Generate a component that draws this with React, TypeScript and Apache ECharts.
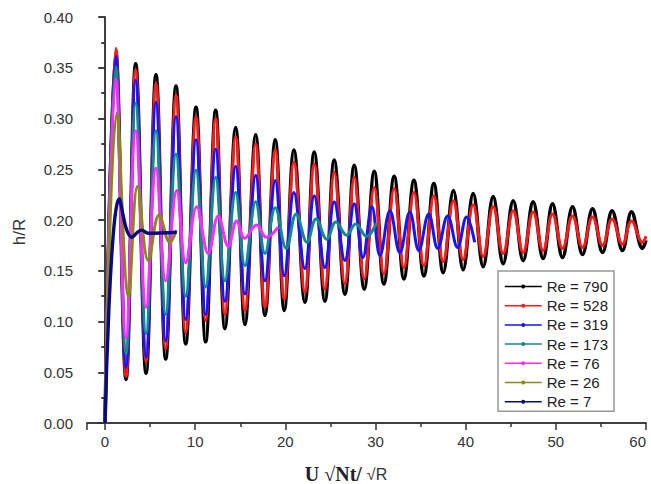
import React, { useEffect, useRef } from "react";
import * as echarts from "echarts";

const seriesNames = ["Re = 790", "Re = 528", "Re = 319", "Re = 173", "Re = 76", "Re = 26", "Re = 7"];
const seriesColors = ["#000000", "#ff1a1a", "#1414ff", "#138a8a", "#ff2bff", "#8a8a14", "#0a0a80"];

// Re = 790 (extrema)
const re790T = [0, 1.19, 2.33, 3.4, 4.55, 5.65, 6.73, 7.87, 8.95, 10.09, 11.16, 12.27, 13.3, 14.49, 15.52, 16.71, 17.74, 18.88, 19.88, 20.95, 22.17, 23.2, 24.39, 25.42, 26.61, 27.64, 28.75, 29.86, 30.93, 32.07, 33.15, 34.26, 35.37, 36.47, 37.51, 38.64, 39.72, 40.83, 41.94, 43.05, 44.16, 45.27, 46.38, 47.48, 48.59, 49.63, 50.74, 51.85, 52.96, 54.07, 55.18, 56.24, 57.39, 58.39, 59.61, 60];
const re790H = [0, 0.366, 0.043, 0.354, 0.049, 0.343, 0.063, 0.332, 0.078, 0.311, 0.08, 0.308, 0.093, 0.291, 0.097, 0.284, 0.106, 0.279, 0.111, 0.269, 0.119, 0.267, 0.12, 0.259, 0.127, 0.254, 0.132, 0.248, 0.137, 0.243, 0.142, 0.239, 0.145, 0.236, 0.148, 0.229, 0.151, 0.226, 0.154, 0.223, 0.157, 0.219, 0.16, 0.218, 0.162, 0.216, 0.163, 0.213, 0.166, 0.211, 0.168, 0.209, 0.17, 0.208, 0.172, 0.18];

// Re = 528
const re528T = re790T;
const re528H = [0, 0.369, 0.046, 0.348, 0.06, 0.335, 0.073, 0.323, 0.089, 0.302, 0.101, 0.3, 0.107, 0.282, 0.111, 0.275, 0.114, 0.269, 0.122, 0.257, 0.129, 0.255, 0.132, 0.247, 0.137, 0.242, 0.142, 0.232, 0.147, 0.231, 0.153, 0.227, 0.155, 0.224, 0.159, 0.219, 0.161, 0.215, 0.164, 0.213, 0.167, 0.209, 0.168, 0.208, 0.17, 0.206, 0.172, 0.204, 0.173, 0.203, 0.175, 0.201, 0.176, 0.199, 0.178, 0.184];

// Re = 319
const re319T = [0, 1.19, 2.33, 3.4, 4.55, 5.65, 6.73, 7.87, 8.95, 10.09, 11.16, 12.27, 13.3, 14.49, 15.52, 16.71, 17.74, 18.88, 19.88, 20.95, 22.17, 23.2, 24.39, 25.42, 26.61, 27.64, 28.6, 29.6, 30.5, 31.6, 32.7, 33.8, 34.8, 35.9, 36.9, 38.0, 39.1, 40.1, 41.0];
const re319H = [0, 0.361, 0.055, 0.338, 0.065, 0.316, 0.081, 0.302, 0.102, 0.279, 0.107, 0.27, 0.12, 0.253, 0.127, 0.244, 0.14, 0.239, 0.145, 0.227, 0.152, 0.224, 0.153, 0.218, 0.16, 0.216, 0.163, 0.213, 0.165, 0.209, 0.168, 0.208, 0.17, 0.206, 0.172, 0.204, 0.173, 0.203, 0.178];

// Re = 173
const re173T = [0, 1.19, 2.33, 3.4, 4.55, 5.65, 6.73, 7.87, 8.95, 10.09, 11.16, 12.27, 13.3, 14.49, 15.52, 16.71, 17.74, 18.88, 20.1, 21.2, 22.4, 23.4, 24.6, 25.6, 26.8, 27.8, 29.0, 30.1];
const re173H = [0, 0.351, 0.068, 0.315, 0.088, 0.288, 0.107, 0.265, 0.125, 0.249, 0.134, 0.242, 0.14, 0.227, 0.155, 0.218, 0.167, 0.212, 0.172, 0.206, 0.178, 0.201, 0.181, 0.198, 0.185, 0.196, 0.184, 0.197];

// Re = 76
const re76T = [0, 1.19, 2.33, 3.4, 4.55, 5.65, 6.73, 7.95, 8.95, 10.17, 11.45, 12.56, 13.67, 14.6, 15.5, 16.8, 17.9, 19.2];
const re76H = [0, 0.339, 0.084, 0.288, 0.114, 0.251, 0.14, 0.229, 0.158, 0.213, 0.167, 0.204, 0.174, 0.199, 0.182, 0.195, 0.183, 0.193];

// Re = 26
const re26T = [0, 1.3, 2.6, 3.6, 4.8, 6.0, 7.2, 7.9];
const re26H = [0, 0.305, 0.125, 0.233, 0.16, 0.205, 0.178, 0.19];

// Re = 7
const re7T = [0, 1.59, 2.96, 4.07, 4.8, 7.95];
const re7H = [0, 0.221, 0.183, 0.19, 0.187, 0.188];

const allT = [re790T, re528T, re319T, re173T, re76T, re26T, re7T];
const allH = [re790H, re528H, re319H, re173H, re76H, re26H, re7H];
const lineWidths = [3.6, 3, 3, 3, 3, 3, 3.4];

const axisColor = "#333";

export default function App() {
  const ref = useRef<HTMLDivElement>(null);
  useEffect(() => {
    if (!ref.current) return;
    const chart = echarts.init(ref.current, undefined, { renderer: "svg" });
    const series = seriesNames.map((name, i) => ({
      name,
      type: "line",
      data: allT[i].map((t, k) => [t, allH[i][k]]),
      smooth: 0.4,
      showSymbol: false,
      symbol: "circle",
      symbolSize: 4,
      lineStyle: { color: seriesColors[i], width: lineWidths[i] },
      itemStyle: { color: seriesColors[i] },
      z: 2 + i,
    }));
    const lineStyle = { color: axisColor, width: 1.5 };
    chart.setOption({
      animation: false,
      backgroundColor: "#fff",
      grid: { left: 87, top: 17, right: 5, bottom: 61, outerBoundsMode: "none" },
      xAxis: [
        {
          type: "value",
          min: -2,
          max: 60,
          splitNumber: 6,
          position: "bottom",
          axisLine: { show: true, lineStyle },
          axisTick: { show: true, length: 7, lineStyle },
          minorTick: { show: true, splitNumber: 2, length: 4, lineStyle },
          splitLine: { show: false },
          axisLabel: {
            margin: 11,
            fontSize: 15,
            color: "#333",
            fontFamily: "Liberation Sans",
            showMinLabel: false,
            alignMaxLabel: "right",
            formatter: (v: number) => (v < 0 ? "" : String(v)),
          },
        },
        {
          type: "value",
          min: -2,
          max: 60,
          position: "top",
          axisLine: { show: true, lineStyle },
          axisTick: { show: false },
          axisLabel: { show: false },
          splitLine: { show: false },
        },
      ],
      yAxis: [
        {
          type: "value",
          min: 0,
          max: 0.4,
          interval: 0.05,
          axisLine: { show: true, lineStyle },
          axisTick: { show: true, length: 7, lineStyle },
          minorTick: { show: true, splitNumber: 2, length: 4, lineStyle },
          splitLine: { show: false },
          axisLabel: {
            margin: 14,
            fontSize: 15,
            color: "#333",
            fontFamily: "Liberation Sans",
            formatter: (v: number) => v.toFixed(2),
          },
        },
        {
          type: "value",
          min: 0,
          max: 0.4,
          interval: 0.05,
          position: "right",
          axisLine: { show: true, lineStyle },
          axisTick: { show: true, inside: true, length: 6, lineStyle },
          minorTick: { show: true, splitNumber: 2, length: 3, lineStyle },
          splitLine: { show: false },
          axisLabel: { show: false },
        },
      ],
      legend: {
        data: seriesNames,
        orient: "vertical",
        left: 498,
        top: 271,
        itemWidth: 37,
        itemHeight: 5,
        itemGap: 4.2,
        padding: [8, 6, 2, 6],
        borderColor: "#999",
        borderWidth: 1.5,
        backgroundColor: "#fff",
        lineStyle: { width: 1.5 },
        textStyle: { fontSize: 15, fontFamily: "Liberation Sans", color: "#222" },
      },
      graphic: [
        {
          type: "text",
          x: 19,
          y: 232,
          rotation: Math.PI / 2,
          style: {
            text: "h/R",
            fontSize: 17,
            fontFamily: "Liberation Sans",
            fill: "#333",
            align: "center",
            verticalAlign: "middle",
          },
        },
        {
          type: "text",
          x: 346,
          y: 474,
          style: {
            text: "{a|U √Nt/ }{b|√R}",
            align: "center",
            verticalAlign: "middle",
            rich: {
              a: { fontFamily: "Liberation Serif", fontWeight: "bold", fontSize: 20, fill: "#222" },
              b: { fontFamily: "Liberation Sans", fontSize: 16, fill: "#333" },
            },
          },
        },
      ],
      series,
    });
    return () => chart.dispose();
  }, []);
  return (
    <div
      ref={ref}
      style={{ position: "fixed", left: 0, top: 0, width: 651, height: 484, background: "#fff" }}
    />
  );
}
